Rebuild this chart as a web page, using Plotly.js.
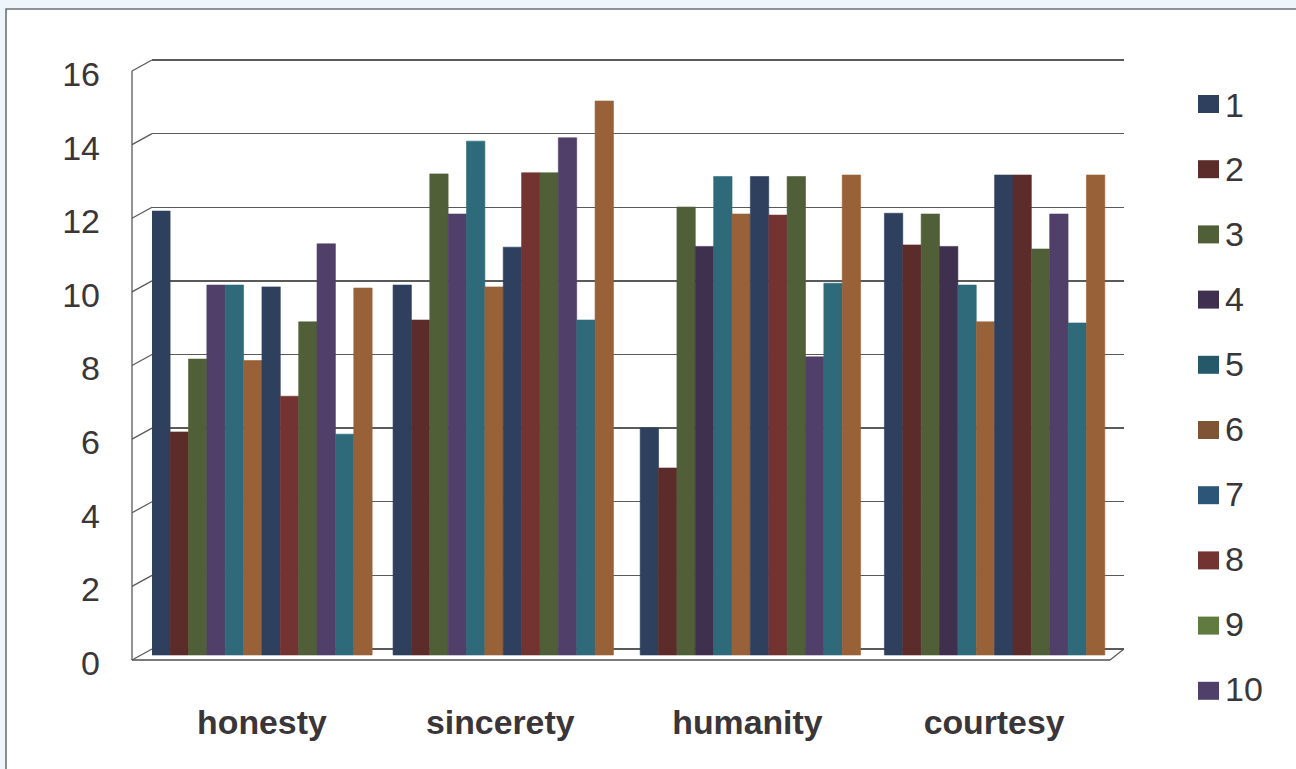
<!DOCTYPE html>
<html>
<head>
<meta charset="utf-8">
<script src="https://cdn.plot.ly/plotly-3.0.1.min.js"></script>
<style>html,body{margin:0;padding:0;background:#eff6fb;overflow:hidden}</style>
</head>
<body>
<div id="chart" style="width:1296px;height:769px"></div>
<script>
const categories = ['honesty', 'sincerety', 'humanity', 'courtesy'];
const s1  = [12.06, 10.05, 6.17, 12.0];
const s2  = [6.06, 9.1, 5.08, 11.14];
const s3  = [8.04, 13.07, 12.17, 11.98];
const s4  = [10.05, 11.98, 11.1, 11.1];
const s5  = [10.05, 13.96, 13.0, 10.05];
const s6  = [8.0, 10.0, 11.98, 9.05];
const s7  = [10.0, 11.08, 13.0, 13.04];
const s8  = [7.03, 13.1, 11.95, 13.04];
const s9  = [9.05, 13.1, 13.0, 11.03];
const s10 = [11.17, 14.05, 8.1, 11.98];
const s11 = [6.0, 9.1, 10.1, 9.02];
const s12 = [9.97, 15.05, 13.04, 13.04];
const seriesValues = [s1, s2, s3, s4, s5, s6, s7, s8, s9, s10, s11, s12];

const NAVY = '#2e405e', MAROON = '#5c2c2a', RED = '#733331', OLIVE = '#505f38',
      PURPLE = '#503f68', DARKPURPLE = '#40304f', TEAL = '#2e6a7a', BROWN = '#986138';
const seriesColors = [
  NAVY, MAROON, OLIVE,
  [PURPLE, PURPLE, DARKPURPLE, DARKPURPLE],
  TEAL, BROWN, NAVY,
  [RED, RED, RED, MAROON],
  OLIVE, PURPLE, TEAL, BROWN
];

const legendLabels = ['1','2','3','4','5','6','7','8','9','10'];
const legendColors = ['#2e405e','#5c2c2a','#505f38','#40304f','#25596a','#7e5435','#2d5577','#733331','#607a40','#503f68'];
const yTicks = [0,2,4,6,8,10,12,14,16];

// page geometry (pixels)
const W = 1296, H = 769;
const L = 132, R = 1124, T = 50, B = 670;
const unit = 36.81;               // pixels per value unit
const rangeFor = zeroPx => [-(B - zeroPx) / unit, (zeroPx - T) / unit];
const px = x => (x - L) / (R - L);
const py = y => (B - y) / (B - T);
const INK = '#3a3538', LINE = '#5a5a5a';

const groupPlacement = [0, 0.988, 2, 3];
const labelPlacement = [0, 0.976, 1.988, 2.998];

const traces = seriesValues.map((vals, i) => ({
  type: 'bar',
  name: String(i + 1),
  x: groupPlacement,
  y: vals,
  width: 0.0752,
  offset: -0.451 + 0.0752 * i,
  xaxis: 'x',
  yaxis: 'y',
  showlegend: false,
  marker: { color: seriesColors[i], line: { width: 0.6, color: seriesColors[i] } }
}));
// invisible carriers that switch on the wall and label axes
traces.push({ type: 'scatter', x: [0], y: [0], xaxis: 'x', yaxis: 'y2', mode: 'none', showlegend: false, hoverinfo: 'skip' });
traces.push({ type: 'scatter', x: [0], y: [0], xaxis: 'x', yaxis: 'y3', mode: 'none', showlegend: false, hoverinfo: 'skip' });

const seg = (x0, y0, x1, y1, color, width) => ({
  type: 'line', xref: 'paper', yref: 'paper', layer: 'above',
  x0: px(x0), y0: py(y0), x1: px(x1), y1: py(y1),
  line: { color: color || LINE, width: width || 1.3 }
});

const shapes = [
  // card
  { type: 'rect', xref: 'paper', yref: 'paper', layer: 'below',
    x0: px(6), x1: px(1310), y0: py(9), y1: py(790),
    fillcolor: '#ffffff', line: { color: '#6f7276', width: 1.6 } },
  // front wall edge and floor
  seg(132, 71, 132, 660),
  seg(132, 660, 1110, 660, '#4f4f4f', 1.5),
  seg(1110, 660, 1124, 649)
];
yTicks.forEach(v => {
  const back = 649 - v * unit;
  shapes.push(seg(132, back + 11, 152, back));
});
legendLabels.forEach((l, i) => {
  const c = 104 + 65.2 * i;
  shapes.push({ type: 'rect', xref: 'paper', yref: 'paper', layer: 'above',
    x0: px(1198), x1: px(1219), y0: py(c - 9), y1: py(c + 9),
    fillcolor: legendColors[i], line: { width: 0 } });
});

const annotations = legendLabels.map((l, i) => ({
  xref: 'paper', yref: 'paper', x: px(1223), y: py(104.5 + 64.9 * i),
  text: l, showarrow: false, xanchor: 'left', yanchor: 'middle',
  font: { family: 'Liberation Sans, Arial, sans-serif', size: 34, color: INK }
}));

const layout = {
  width: W, height: H,
  margin: { l: L, r: W - R, t: T, b: H - B, pad: 0 },
  paper_bgcolor: '#eff6fb',
  plot_bgcolor: 'rgba(0,0,0,0)',
  showlegend: false,
  barmode: 'overlay',
  font: { family: 'Liberation Sans, Arial, sans-serif', color: INK },
  xaxis: {
    domain: [px(152), 1],
    range: [-0.45, 3.53],
    tickmode: 'array',
    tickvals: labelPlacement,
    ticktext: categories,
    ticks: '',
    ticklabelstandoff: 29,
    showgrid: false, zeroline: false, showline: false,
    tickfont: { family: 'Liberation Sans, Arial, sans-serif', size: 33.8, color: INK, weight: 'bold' }
  },
  // bars
  yaxis: {
    domain: [0, 1], range: rangeFor(655),
    showgrid: false, zeroline: false, showline: false, showticklabels: false, ticks: ''
  },
  // back wall gridlines
  yaxis2: {
    overlaying: 'y', range: rangeFor(649),
    tickmode: 'array', tickvals: yTicks,
    showgrid: true, gridcolor: LINE, gridwidth: 1.3,
    zeroline: false, showline: false, showticklabels: false, ticks: ''
  },
  // front scale labels
  yaxis3: {
    overlaying: 'y', anchor: 'free', position: 0, side: 'left', range: rangeFor(663),
    tickmode: 'array', tickvals: yTicks,
    showgrid: false, zeroline: false, showline: false, ticks: '',
    ticklabelstandoff: 32,
    tickfont: { family: 'Liberation Sans, Arial, sans-serif', size: 34, color: INK }
  },
  shapes, annotations
};

Plotly.newPlot('chart', traces, layout, { displayModeBar: false, staticPlot: true });
</script>
</body>
</html>
